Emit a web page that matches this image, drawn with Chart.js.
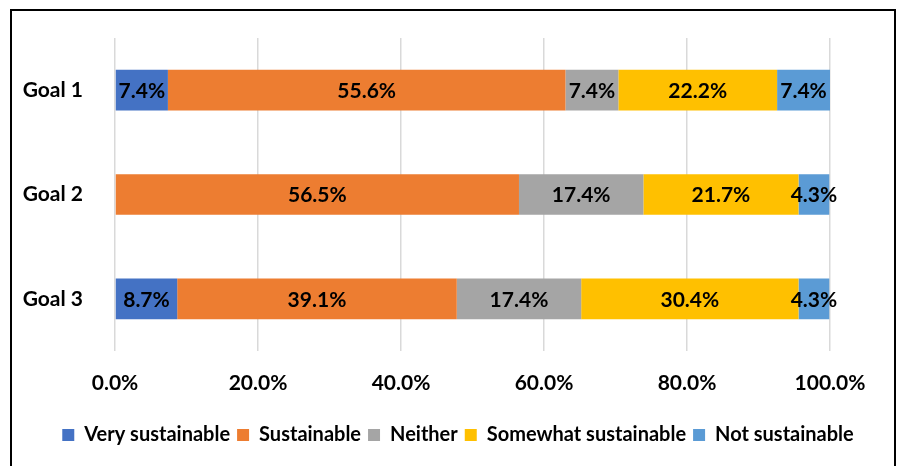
<!DOCTYPE html>
<html>
<head>
<meta charset="utf-8">
<script src="https://cdn.jsdelivr.net/npm/chart.js@4"></script>
<style>
  html, body { margin: 0; padding: 0; background: #fff; }
  #wrap { width: 897px; height: 466px; position: relative; }
</style>
</head>
<body>
<div id="wrap"><canvas id="myChart"></canvas></div>
<script>
// goals and the share of answers in each category (%)
var goals = ['Goal 1', 'Goal 2', 'Goal 3'];
var veryS = [7.4, 0, 8.7];
var sust = [55.6, 56.5, 39.1];
var neither = [7.4, 17.4, 17.4];
var somewhat = [22.2, 21.7, 30.4];
var notS = [7.4, 4.3, 4.3];
var xTicks = [0, 20, 40, 60, 80, 100];

var FONT = 'Lato, "Liberation Sans", sans-serif';

// draws the frame round the whole chart
var framePlugin = {
    id: 'frame',
    beforeDraw: function (chart) {
        var c = chart.ctx;
        c.save();
        c.fillStyle = '#fff';
        c.fillRect(0, 0, chart.width, chart.height);
        c.strokeStyle = '#000';
        c.lineWidth = 2;
        c.strokeRect(11, 10, 884, 480);
        c.restore();
    }
};

// value labels in the middle of every segment
var valueLabels = {
    id: 'valueLabels',
    afterDatasetsDraw: function (chart) {
        var c = chart.ctx;
        c.save();
        c.font = 'bold 21px ' + FONT;
        c.fillStyle = '#000';
        c.textAlign = 'center';
        c.textBaseline = 'middle';
        chart.data.datasets.forEach(function (ds, i) {
            chart.getDatasetMeta(i).data.forEach(function (bar, j) {
                var v = ds.data[j];
                if (!v) return;
                var cx = (bar.x + bar.base) / 2;
                c.fillText(v.toFixed(1) + '%', cx, bar.y + 1);
            });
        });
        c.restore();
    }
};

var ctx = document.getElementById('myChart').getContext('2d');
var chart = new Chart(ctx, {
    type: 'bar',
    data: {
        labels: goals,
        datasets: [
            { label: 'Very sustainable', data: veryS, backgroundColor: '#4472C4' },
            { label: 'Sustainable', data: sust, backgroundColor: '#ED7D31' },
            { label: 'Neither', data: neither, backgroundColor: '#A5A5A5' },
            { label: 'Somewhat sustainable', data: somewhat, backgroundColor: '#FFC000' },
            { label: 'Not sustainable', data: notS, backgroundColor: '#5B9BD5' }
        ]
    },
    options: {
        indexAxis: 'y',
        responsive: true,
        maintainAspectRatio: false,
        animation: false,
        datasets: {
            bar: { barPercentage: 0.39, categoryPercentage: 1, borderWidth: 0 }
        },
        layout: { padding: { left: 19, right: 0, top: 38, bottom: 11 } },
        scales: {
            x: {
                stacked: true,
                min: 0,
                max: 100,
                afterBuildTicks: function (scale) {
                    scale.ticks = xTicks.map(function (v) { return { value: v }; });
                },
                afterFit: function (scale) { scale.height = 67; },
                grid: { color: '#d9d9d9', lineWidth: 1.5, drawTicks: false },
                border: { display: false },
                ticks: {
                    padding: 20,
                    color: '#000',
                    font: { family: FONT, size: 21, weight: 'bold' },
                    callback: function (v) { return v.toFixed(1) + '%'; }
                }
            },
            y: {
                stacked: true,
                afterFit: function (scale) { scale.width = 96; },
                grid: { display: false },
                border: { display: false },
                ticks: {
                    padding: 24,
                    color: '#000',
                    font: { family: FONT, size: 21, weight: 'bold' }
                }
            },
            // empty axis on the right, only keeps the plot off the frame
            y2: {
                type: 'category',
                labels: goals,
                position: 'right',
                display: true,
                afterFit: function (scale) { scale.width = 67; },
                grid: { display: false },
                border: { display: false },
                ticks: { display: false }
            }
        },
        plugins: {
            legend: {
                position: 'bottom',
                labels: {
                    boxWidth: 12,
                    boxHeight: 12,
                    padding: 7,
                    color: '#000',
                    font: { family: FONT, size: 20, weight: 'bold' }
                }
            },
            tooltip: { enabled: false }
        }
    },
    plugins: [framePlugin, valueLabels]
});
</script>
</body>
</html>
